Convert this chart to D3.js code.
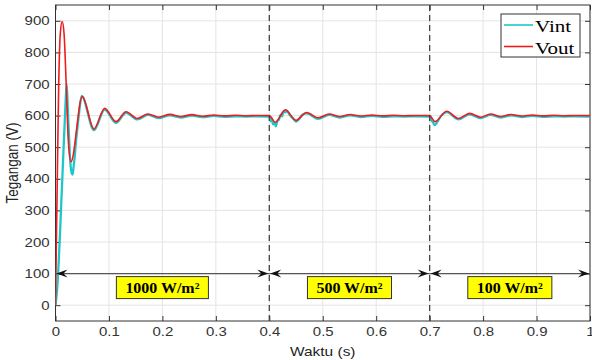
<!DOCTYPE html>
<html>
<head>
<meta charset="utf-8">
<script src="https://cdn.jsdelivr.net/npm/d3@7"></script>
<style>
  body { margin: 0; background: #fff; }
  svg { display: block; }
</style>
</head>
<body>
<script>
// Output voltage (red), [time s, volts]
const vout = [
  [0, 0], [0.003, 360], [0.006, 700], [0.009, 860], [0.0125, 898],
  [0.016, 860], [0.020, 700], [0.024, 520], [0.029, 454],
  [0.050, 660], [0.072, 558], [0.092, 623], [0.113, 581], [0.132, 612],
  [0.153, 591], [0.173, 605], [0.193, 595], [0.214, 604], [0.234, 597],
  [0.255, 603], [0.275, 598], [0.296, 602], [0.316, 599], [0.337, 601],
  [0.357, 599.5], [0.378, 600.3], [0.400, 600],
  [0.411, 579], [0.430, 618], [0.450, 585], [0.470, 610], [0.491, 593],
  [0.512, 605], [0.532, 597], [0.551, 603.5], [0.571, 598.5], [0.592, 602],
  [0.612, 599], [0.632, 601], [0.653, 599.5], [0.673, 600.3], [0.700, 600],
  [0.710, 581], [0.732, 614], [0.754, 591], [0.775, 607], [0.795, 595],
  [0.814, 605], [0.833, 597], [0.852, 603.5], [0.872, 598.5], [0.892, 602],
  [0.912, 599], [0.932, 601], [0.952, 599.5], [0.972, 600.3], [1.000, 600]
];

// Intermediate voltage (cyan), [time s, volts]
const vint = [
  [0, 0], [0.003, 50], [0.012, 370], [0.018, 610], [0.021, 700],
  [0.023, 620], [0.025, 544], [0.027, 471], [0.030, 420], [0.032, 413],
  [0.034, 440], [0.036, 471], [0.038, 513], [0.041, 560], [0.044, 607],
  [0.049, 662], [0.072, 554], [0.092, 619], [0.113, 577], [0.132, 609],
  [0.153, 588], [0.173, 602], [0.193, 592], [0.214, 601], [0.234, 594],
  [0.255, 600], [0.275, 595], [0.296, 599], [0.316, 596], [0.337, 598],
  [0.357, 597], [0.378, 597.5], [0.400, 597],
  [0.403, 582], [0.405, 590], [0.407, 572], [0.410, 577], [0.412, 566],
  [0.415, 582], [0.418, 588], [0.421, 602], [0.424, 598], [0.427, 614],
  [0.430, 610], [0.433, 616], [0.437, 605], [0.441, 596], [0.446, 588],
  [0.450, 581], [0.455, 588], [0.462, 603], [0.470, 607], [0.491, 590],
  [0.512, 602], [0.532, 594], [0.551, 600.5], [0.571, 595.5], [0.592, 599],
  [0.612, 596], [0.632, 598], [0.653, 597], [0.673, 597.5], [0.700, 597],
  [0.703, 585], [0.706, 580], [0.709, 570], [0.712, 574], [0.716, 585],
  [0.722, 600], [0.732, 611], [0.754, 588], [0.775, 604], [0.795, 592],
  [0.814, 602], [0.833, 594], [0.852, 600.5], [0.872, 595.5], [0.892, 599],
  [0.912, 596], [0.932, 598], [0.952, 597], [0.972, 597.5], [1.000, 597]
];

const xTicks = [0, 0.1, 0.2, 0.3, 0.4, 0.5, 0.6, 0.7, 0.8, 0.9, 1];
const yTicks = [0, 100, 200, 300, 400, 500, 600, 700, 800, 900];
const stepTimes = [0.4, 0.7];
const irradiance = [
  { from: 0, to: 0.4, label: "1000 W/m²" },
  { from: 0.4, to: 0.7, label: "500 W/m²" },
  { from: 0.7, to: 1, label: "100 W/m²" }
];
const arrowLevel = 100;

const width = 592, height = 360;
const plotLeft = 55.5, plotRight = 590, plotTop = 5, plotBottom = 321;
const sx = 1.19; // horizontal stretch of glyphs

const svg = d3.select("body").append("svg")
  .attr("width", width)
  .attr("height", height)
  .style("font-family", "'Liberation Sans', Arial, sans-serif");

const x = d3.scaleLinear().domain([0, 1]).range([plotLeft, plotRight]);
const y = d3.scaleLinear().domain([-50, 950]).range([plotBottom, plotTop]);

// grid
svg.append("g").selectAll("line")
  .data(xTicks)
  .enter().append("line")
  .attr("x1", d => x(d)).attr("x2", d => x(d))
  .attr("y1", plotTop).attr("y2", plotBottom)
  .attr("stroke", "#e4e4e4");
svg.append("g").selectAll("line")
  .data(yTicks)
  .enter().append("line")
  .attr("x1", plotLeft).attr("x2", plotRight)
  .attr("y1", d => y(d)).attr("y2", d => y(d))
  .attr("stroke", "#e4e4e4");

// axes with inward ticks
const xAxis = svg.append("g")
  .attr("transform", `translate(0,${plotBottom})`)
  .call(d3.axisBottom(x).tickValues(xTicks).tickSize(-5).tickSizeOuter(0)
    .tickPadding(6).tickFormat(d => String(d)));
const yAxis = svg.append("g")
  .attr("transform", `translate(${plotLeft},0)`)
  .call(d3.axisLeft(y).tickValues(yTicks).tickSize(-5).tickSizeOuter(0)
    .tickPadding(5).tickFormat(d => String(d)));
svg.append("g")
  .attr("transform", `translate(${plotRight},0)`)
  .call(d3.axisRight(y).tickValues(yTicks).tickSize(-5).tickSizeOuter(0).tickFormat(""));
svg.append("g")
  .attr("transform", `translate(0,${plotTop})`)
  .call(d3.axisTop(x).tickValues(xTicks).tickSize(-5).tickSizeOuter(0).tickFormat(""));

svg.selectAll(".domain").remove();
svg.selectAll(".tick line").attr("stroke", "#333");
[xAxis, yAxis].forEach(g => g.selectAll("text")
  .attr("font-size", 12.6)
  .attr("fill", "#333")
  .attr("font-family", "'Liberation Sans', Arial, sans-serif")
  .attr("transform", `scale(${sx},1)`));

// plot frame
svg.append("rect")
  .attr("x", plotLeft).attr("y", plotTop)
  .attr("width", plotRight - plotLeft).attr("height", plotBottom - plotTop)
  .attr("fill", "none")
  .attr("stroke", "#333");

// traces
svg.append("clipPath").attr("id", "plot-clip")
  .append("rect")
  .attr("x", plotLeft).attr("y", plotTop)
  .attr("width", plotRight - plotLeft).attr("height", plotBottom - plotTop);

const line = d3.line()
  .x(d => x(d[0]))
  .y(d => y(d[1]))
  .curve(d3.curveMonotoneX);

const traces = svg.append("g").attr("clip-path", "url(#plot-clip)");
traces.append("path")
  .datum(vint)
  .attr("d", line)
  .attr("fill", "none")
  .attr("stroke", "#1fc6c8")
  .attr("stroke-width", 2.3)
  .attr("stroke-linejoin", "round");
traces.append("path")
  .datum(vout)
  .attr("d", line)
  .attr("fill", "none")
  .attr("stroke", "#ee1c1c")
  .attr("stroke-width", 1.6)
  .attr("stroke-linejoin", "round");

// irradiance step markers
svg.append("g").selectAll("line")
  .data(stepTimes)
  .enter().append("line")
  .attr("x1", d => x(d)).attr("x2", d => x(d))
  .attr("y1", plotTop).attr("y2", plotBottom)
  .attr("stroke", "#444")
  .attr("stroke-width", 1.3)
  .attr("stroke-dasharray", "6,4");

// double-headed arrows spanning each irradiance interval
const ay = y(arrowLevel);
const arrows = svg.append("g");
arrows.selectAll("line")
  .data(irradiance)
  .enter().append("line")
  .attr("x1", d => x(d.from)).attr("x2", d => x(d.to))
  .attr("y1", ay).attr("y2", ay)
  .attr("stroke", "#555")
  .attr("stroke-width", 1.2);

function head(tipX, dir) {
  // dir = -1 points left, +1 points right
  const b = tipX - dir * 11, n = tipX - dir * 7;
  return `M${tipX},${ay}L${b},${ay - 4}L${n},${ay}L${b},${ay + 4}Z`;
}
const heads = [];
irradiance.forEach(d => {
  heads.push(head(x(d.from) + 1, -1));
  heads.push(head(x(d.to) - 1, 1));
});
arrows.selectAll("path")
  .data(heads)
  .enter().append("path")
  .attr("d", d => d)
  .attr("fill", "#111");

// irradiance labels
const labels = svg.append("g").selectAll("g")
  .data(irradiance)
  .enter().append("g")
  .attr("transform", d => `translate(${x((d.from + d.to) / 2)},${ay + 3})`);
labels.append("rect");
const labelTexts = labels.append("text")
  .attr("text-anchor", "middle")
  .attr("y", 16)
  .attr("transform", "scale(1.14,1)")
  .attr("font-family", "'Liberation Serif', 'Times New Roman', serif")
  .attr("font-weight", "bold")
  .attr("font-size", 14)
  .attr("fill", "#000")
  .text(d => d.label);
labelTexts.each(function() {
  const w = this.getComputedTextLength() * 1.14 + 18;
  d3.select(this.parentNode).select("rect")
    .attr("x", -w / 2).attr("y", 0)
    .attr("width", w).attr("height", 22)
    .attr("fill", "#ffff00")
    .attr("stroke", "#333")
    .attr("stroke-width", 1);
});

// legend
const legend = svg.append("g").attr("transform", "translate(501,14)");
legend.append("rect")
  .attr("width", 79).attr("height", 43)
  .attr("fill", "#fff")
  .attr("stroke", "#333");
const legendItems = [
  { name: "Vint", color: "#1fc6c8" },
  { name: "Vout", color: "#ee1c1c" }
];
legendItems.forEach((d, i) => {
  const ly = 11 + i * 21.5;
  legend.append("line")
    .attr("x1", 3).attr("x2", 32)
    .attr("y1", ly).attr("y2", ly)
    .attr("stroke", d.color)
    .attr("stroke-width", 1.6);
  legend.append("text")
    .attr("transform", `translate(34,${ly + 7}) scale(1.2,1)`)
    .attr("font-family", "'Liberation Serif', 'Times New Roman', serif")
    .attr("font-size", 17.5)
    .attr("fill", "#000")
    .text(d.name);
});

// axis titles
svg.append("text")
  .attr("transform", `translate(${(plotLeft + plotRight) / 2},356) scale(${sx},1)`)
  .attr("text-anchor", "middle")
  .attr("font-size", 13)
  .attr("fill", "#222")
  .text("Waktu (s)");
svg.append("text")
  .attr("transform", `translate(18,${(plotTop + plotBottom) / 2}) scale(${sx},1) rotate(-90)`)
  .attr("text-anchor", "middle")
  .attr("font-size", 13.5)
  .attr("fill", "#222")
  .text("Tegangan (V)");
</script>
</body>
</html>
